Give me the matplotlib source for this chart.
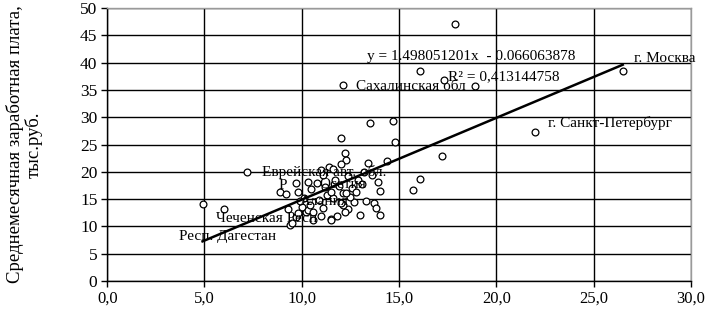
import matplotlib
matplotlib.use("Agg")
import matplotlib.pyplot as plt
import numpy as np

# regional points: x value, average monthly wage (thousand rub.)
X_VALS = [
    17.9, 26.5, 16.1, 17.3, 18.9, 12.1, 22.0, 17.2, 16.1, 15.7,
    13.5, 14.7, 12.0, 14.8, 12.2, 12.3, 13.4, 14.4, 12.0, 11.4,
    11.0, 11.6, 14.0, 13.9, 13.6, 7.2, 8.9, 9.2, 4.9, 6.0,
    9.7, 9.8, 10.3, 10.8, 11.1, 9.4, 9.7, 9.8, 10.2, 10.0,
    13.3, 13.7, 13.8, 14.0, 13.0, 11.8, 11.5, 12.4, 12.7, 12.1,
    11.3, 11.6, 12.0, 11.1, 10.3, 10.6, 12.5, 12.1, 11.5, 10.9,
    9.3, 10.5, 11.9, 12.6, 12.9, 12.4, 11.7, 10.1, 12.8, 13.1,
    11.2, 9.9, 10.4, 12.2, 11.0, 10.6, 13.2, 11.5, 9.5, 12.3,
]
Y_VALS = [
    47.1, 38.4, 38.5, 36.8, 35.7, 35.9, 27.3, 22.9, 18.7, 16.7,
    28.9, 29.3, 26.2, 25.5, 23.4, 22.2, 21.6, 22.0, 21.4, 20.9,
    20.3, 20.5, 16.5, 18.1, 19.4, 19.9, 16.3, 15.9, 14.1, 13.2,
    17.9, 16.3, 18.1, 17.9, 19.4, 10.3, 11.7, 12.4, 12.6, 13.6,
    14.6, 14.3, 13.4, 12.1, 12.1, 11.9, 11.4, 13.2, 14.5, 13.9,
    15.7, 15.2, 14.3, 13.4, 13.0, 12.6, 15.4, 16.1, 16.3, 14.8,
    13.2, 16.8, 17.5, 17.0, 18.5, 19.2, 18.6, 15.2, 16.4, 17.7,
    17.2, 14.6, 14.0, 12.6, 12.0, 11.2, 19.9, 11.2, 10.6, 16.1,
]

TREND_SLOPE = 1.498051201
TREND_INTERCEPT = -0.066063878
EQ_TEXT = "y = 1.498051201x  - 0.066063878"
R2_TEXT = "R\u00b2 = 0,413144758"

# region labels: text, x, y (data coords of the label's left edge)
LABELS = [
    ("г. Москва", 27.1, 40.7),
    ("Сахалинская обл", 12.8, 35.7),
    ("г. Санкт-Петербург", 22.65, 28.9),
    ("Еврейская авт. обл.", 7.95, 20.0),
    ("Р", 8.8, 17.6),
    ("Осетия", 10.9, 17.7),
    ("Алания", 9.9, 14.5),
    ("Чеченская Респ", 5.6, 11.5),
    ("Респ. Дагестан", 3.7, 8.1),
]

X_TICKS = [0, 5, 10, 15, 20, 25, 30]
Y_TICKS = [0, 5, 10, 15, 20, 25, 30, 35, 40, 45, 50]

plt.rcParams["font.family"] = ["Liberation Serif", "DejaVu Serif"]

fig = plt.figure(figsize=(7.10, 3.13), dpi=100)
ax = fig.add_axes([0.151, 0.102, 0.822, 0.872])

ax.set_xlim(0, 30)
ax.set_ylim(0, 50)
ax.set_xticks(X_TICKS)
ax.set_yticks(Y_TICKS)
ax.set_xticklabels([f"{t:.1f}".replace(".", ",") for t in X_TICKS])
ax.set_yticklabels([str(t) for t in Y_TICKS])
ax.tick_params(axis="both", direction="out", length=4, width=1,
               color="black", pad=3)
ax.tick_params(axis="y", labelsize=12.5)
ax.tick_params(axis="x", labelsize=12)

ax.grid(True, color="black", linewidth=1.0)
ax.set_axisbelow(True)
for side in ("top", "right"):
    ax.spines[side].set_color("#9a9a9a")
    ax.spines[side].set_linewidth(1.0)
for side in ("left", "bottom"):
    ax.spines[side].set_color("black")
    ax.spines[side].set_linewidth(1.0)

ax.scatter(X_VALS, Y_VALS, s=24, facecolors="white", edgecolors="black",
           linewidths=0.9, zorder=3)

xs = np.array([min(X_VALS), max(X_VALS)])
ax.plot(xs, TREND_SLOPE * xs + TREND_INTERCEPT, color="black",
        linewidth=1.8, zorder=4)

for text, lx, ly in LABELS:
    ax.text(lx, ly, text, fontsize=11, ha="left", va="center", zorder=5)

ax.text(13.35, 41.2, EQ_TEXT, fontsize=11, ha="left", va="center", zorder=5)
ax.text(17.5, 37.5, R2_TEXT, fontsize=11, ha="left", va="center", zorder=5)

ax.set_ylabel("Среднемесячная заработная плата,\nтыс.руб.", fontsize=13.5,
              linespacing=1.05)
ax.yaxis.set_label_coords(-0.111, 0.5)

fig.savefig("out.png", dpi=100)
